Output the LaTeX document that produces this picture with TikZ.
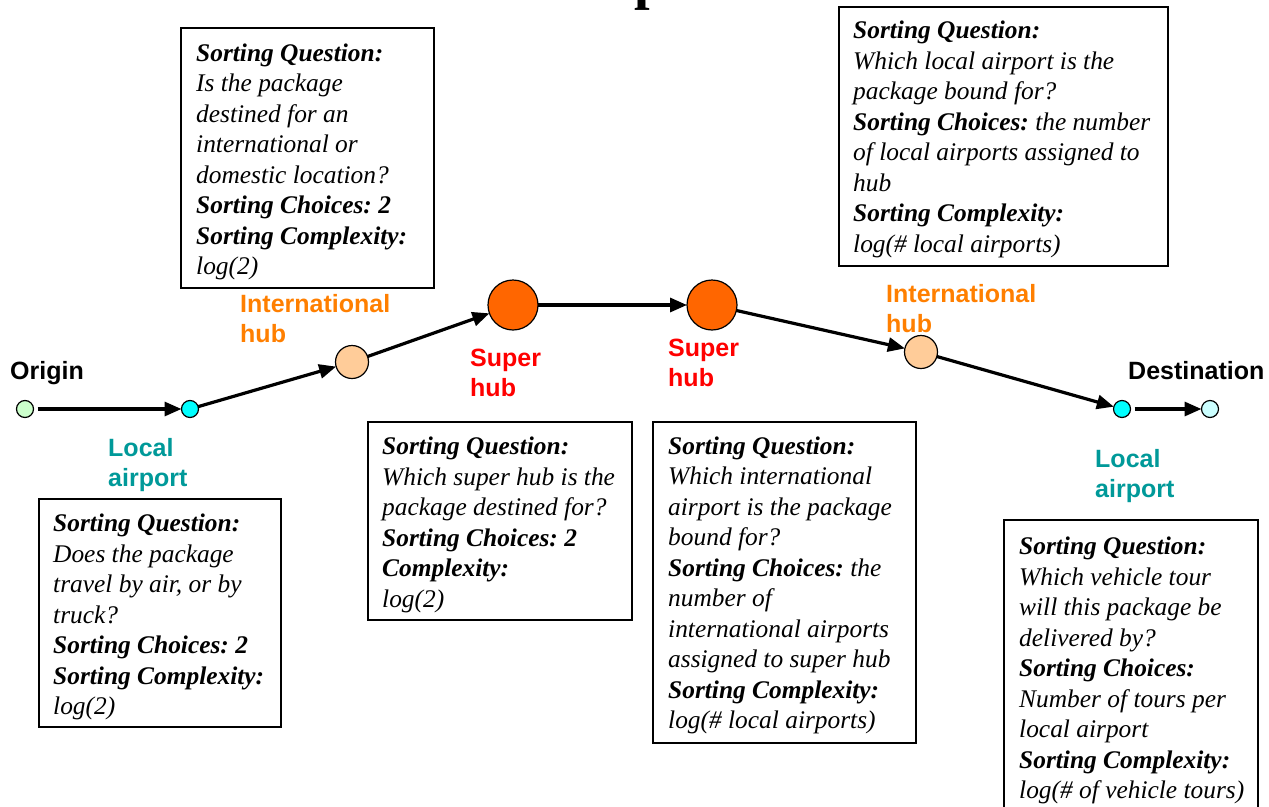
\documentclass[tikz,border=0pt]{standalone}
\usepackage{fontspec}
\setmainfont{Liberation Serif}
\setsansfont{Liberation Sans}
\usetikzlibrary{arrows.meta}
\definecolor{orgfill}{HTML}{CCFFCC}
\definecolor{locfill}{HTML}{00FFFF}
\definecolor{destfill}{HTML}{CCFFFF}
\definecolor{ihfill}{HTML}{FFCC99}
\definecolor{shfill}{HTML}{FF6600}
\definecolor{teallbl}{HTML}{009999}
\definecolor{orangelbl}{HTML}{FF7F00}
\definecolor{redlbl}{HTML}{FF0000}
\frenchspacing
\begin{document}
\begin{tikzpicture}[x=1pt,y=-1pt,
  boxframe/.style={draw, line width=1.3pt, anchor=north west, inner sep=0pt, outer sep=0pt},
  boxtext/.style={anchor=west, inner sep=0pt, align=left, font=\fontsize{25.4}{30.5}\selectfont\itshape},
  lbl/.style={font=\fontsize{25}{30}\selectfont\sffamily\bfseries, align=left, anchor=north west, inner sep=0pt},
  dot/.style={circle, draw, line width=1.2pt, inner sep=0pt, outer sep=0pt},
  arr/.style={line width=3.2pt, -{Triangle[length=17pt,width=14pt]}}]
\useasboundingbox (0,0) rectangle (1269,806);

% partially visible title
\node[font=\fontsize{56}{58}\selectfont\bfseries, anchor=base west, inner sep=0pt] (title) at (634,-1.5) {p};

% circles
\node[dot, fill=orgfill, minimum size=17pt] (orig) at (25,409) {};
\node[dot, fill=locfill, minimum size=17pt] (loc1) at (190,409) {};
\node[dot, fill=ihfill, minimum size=33pt] (ih1) at (352,362) {};
\node[dot, fill=shfill, minimum size=50pt] (sh1) at (513,305) {};
\node[dot, fill=shfill, minimum size=50pt] (sh2) at (712,305) {};
\node[dot, fill=ihfill, minimum size=33pt] (ih2) at (921,352) {};
\node[dot, fill=locfill, minimum size=17pt] (loc2) at (1122,409) {};
\node[dot, fill=destfill, minimum size=17pt] (dest) at (1210,409) {};

% connectors
\draw[arr, shorten <=4pt] (orig) -- (loc1);
\draw[arr] (loc1) -- (ih1);
\draw[arr] (ih1) -- (sh1);
\draw[arr] (sh1) -- (sh2);
\draw[arr] (sh2) -- (ih2);
\draw[arr] (ih2) -- (loc2);
\draw[arr, shorten <=4pt] (loc2) -- (dest);

% labels
\node[lbl] (lorig) at (10,361) {Origin};
\node[lbl, text=teallbl] (lloc1) at (108,438) {Local\\airport};
\node[lbl, text=orangelbl] (lih1) at (240,294) {International\\hub};
\node[lbl, text=redlbl] (lsh1) at (470,349) {Super\\hub};
\node[lbl, text=redlbl] (lsh2) at (668,339) {Super\\hub};
\node[lbl, text=orangelbl] (lih2) at (886,284) {International\\hub};
\node[lbl, text=teallbl] (lloc2) at (1095,449) {Local\\airport};
\node[lbl] (ldest) at (1128,361) {Destination};

% info boxes
\node[boxframe, minimum width=253pt, minimum height=260pt] (boxA) at (181,28) {};
\node[boxtext] (tA) at ([xshift=15pt,yshift=-4pt]boxA.west) {%
\textbf{Sorting Question:}\\
Is the package\\
destined for an\\
international or\\
domestic location?\\
\textbf{Sorting Choices: 2}\\
\textbf{Sorting Complexity:}\\
log(2)};

\node[boxframe, minimum width=242pt, minimum height=228pt] (boxB) at (39,499) {};
\node[boxtext] (tB) at ([xshift=14pt,yshift=-4pt]boxB.west) {%
\textbf{Sorting Question:}\\
Does the package\\
travel by air, or by\\
truck?\\
\textbf{Sorting Choices: 2}\\
\textbf{Sorting Complexity:}\\
log(2)};

\node[boxframe, minimum width=264pt, minimum height=198pt] (boxC) at (368,422) {};
\node[boxtext] (tC) at ([xshift=14pt,yshift=-4pt]boxC.west) {%
\textbf{Sorting Question:}\\
Which super hub is the\\
package destined for?\\
\textbf{Sorting Choices: 2}\\
\textbf{Complexity:}\\
log(2)};

\node[boxframe, minimum width=263pt, minimum height=321pt] (boxD) at (653,422) {};
\node[boxtext] (tD) at ([xshift=15pt,yshift=-3pt]boxD.west) {%
\textbf{Sorting Question:}\\
Which international\\
airport is the package\\
bound for?\\
\textbf{Sorting Choices:} the\\
number of\\
international airports\\
assigned to super hub\\
\textbf{Sorting Complexity:}\\
log(\# local airports)};

\node[boxframe, minimum width=329pt, minimum height=259pt] (boxE) at (839,7) {};
\node[boxtext] (tE) at ([xshift=14pt,yshift=-3pt]boxE.west) {%
\textbf{Sorting Question:}\\
Which local airport is the\\
package bound for?\\
\textbf{Sorting Choices:} the number\\
of local airports assigned to\\
hub\\
\textbf{Sorting Complexity:}\\
log(\# local airports)};

\node[boxframe, minimum width=254pt, minimum height=297pt] (boxF) at (1004,520) {};
\node[boxtext] (tF) at ([xshift=15pt,yshift=-2pt]boxF.west) {%
\textbf{Sorting Question:}\\
Which vehicle tour\\
will this package be\\
delivered by?\\
\textbf{Sorting Choices:}\\
Number of tours per\\
local airport\\
\textbf{Sorting Complexity:}\\
log(\# of vehicle tours)};
\end{tikzpicture}
\end{document}
